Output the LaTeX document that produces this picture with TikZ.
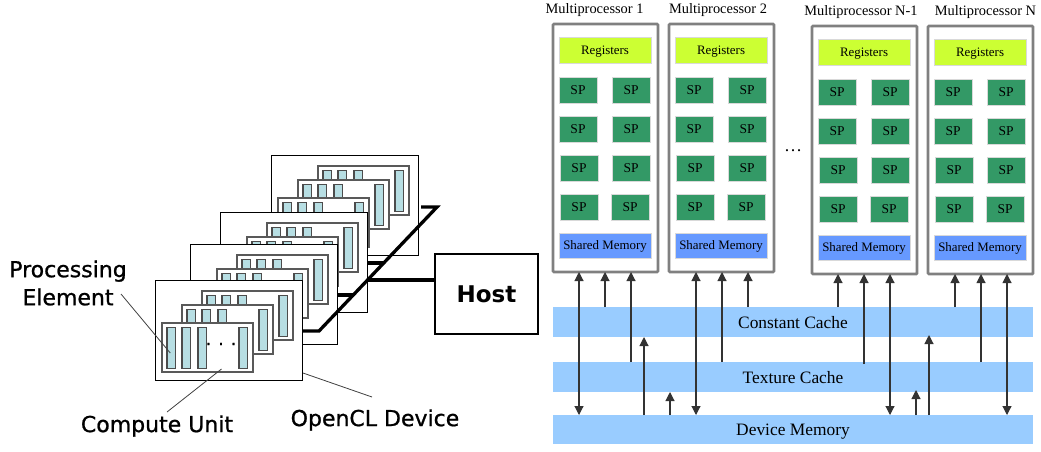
\documentclass[tikz,border=0pt]{standalone}
\usepackage{fontspec}
\setmainfont{Liberation Serif}
\newfontfamily\labfont[FakeBold=0.9]{DejaVu Sans}
\newfontfamily\hostfont{DejaVu Sans}
\usetikzlibrary{positioning,arrows.meta,calc}
\definecolor{regcol}{HTML}{CCFF33}
\definecolor{spcol}{HTML}{339966}
\definecolor{shmcol}{HTML}{6699FF}
\definecolor{cachecol}{HTML}{99CCFF}
\definecolor{pecol}{HTML}{B7DEE3}

\begin{document}
\begin{tikzpicture}[
  x=1pt, y=-1pt,
  >={Stealth[inset=0pt,length=9pt,width=9pt]},
  devbox/.style={draw=black, fill=white, line width=1pt, anchor=north west, inner sep=0pt, outer sep=0pt, minimum width=147pt, minimum height=100pt},
  cubox/.style={draw=black!65, fill=white, line width=1.1pt, anchor=north west, inner sep=0pt, outer sep=0pt, minimum width=91pt, minimum height=49pt},
  pebox/.style={draw=black!70, fill=pecol, line width=1.1pt, anchor=north west, inner sep=0pt, outer sep=0pt, minimum width=8.5pt, minimum height=41pt},
  hostbox/.style={draw=black, fill=white, line width=1.6pt, inner sep=0pt, outer sep=0pt, minimum width=103pt, minimum height=80pt, font=\hostfont\bfseries\fontsize{23}{28}\selectfont},
  lab/.style={font=\labfont\fontsize{22}{28}\selectfont, align=center, inner sep=0pt},
  mpbox/.style={draw=black!50, fill=white, line width=2.8pt, rounded corners=1pt, anchor=north west, inner sep=0pt, outer sep=0pt, minimum width=105pt, minimum height=248pt},
  tbox/.style={anchor=north west, inner sep=0pt, outer sep=0pt, text=black, text depth=0pt, font=\fontsize{12.9}{15}\selectfont},
  regbox/.style={tbox, draw=black!15, fill=regcol, minimum width=92pt, minimum height=26pt},
  spbox/.style={tbox, draw=black!15, fill=spcol, minimum width=38pt, minimum height=26pt, font=\fontsize{13.5}{15}\selectfont},
  shmbox/.style={tbox, draw=black!15, fill=shmcol, minimum width=92pt, minimum height=25pt},
  cachebox/.style={fill=cachecol, anchor=north west, inner sep=0pt, outer sep=0pt, minimum width=480pt, text depth=0pt, font=\fontsize{17.4}{20}\selectfont},
  mplab/.style={inner sep=0pt, font=\fontsize{14.4}{16}\selectfont},
  bus/.style={line width=3.3pt, black},
  leadline/.style={line width=0.8pt, black!75},
  arr/.style={->, line width=1.1pt, black!80},
  arrboth/.style={<->, line width=1.1pt, black!80}
]
\useasboundingbox (0,0) rectangle (1041,451);

% --- OpenCL devices, back to front
\foreach \d/\xpos/\ypos in {4/271/155, 3/220/212, 2/190/244, 1/155/280} {
  \node[devbox] (dev\d) at (\xpos,\ypos) {};
  \foreach \c/\cx/\cy in {3/47/11, 2/27/25, 1/7/43} {
    \node[cubox] (d\d c\c) at ($(dev\d.north west)+(\cx,\cy)$) {};
    \foreach \p/\px in {1/5, 2/20, 3/36, 4/77}
      \node[pebox] (d\d c\c p\p) at ($(d\d c\c.north west)+(\px,4.5)$) {};
  }
}
\node[lab, font=\labfont\fontsize{17}{20}\selectfont] (dots) at (221,344) {. . .};

% --- Host and the bus
\node[hostbox] (host) at (486.5,294) {Host};
\coordinate (busbot) at (319,331);
\coordinate (bustop) at (437,207);
\coordinate (busend) at (421,207);
\coordinate (tap2) at (353,295);
\coordinate (tap3) at (384,263);
\coordinate (taphost) at (367,280);
\draw[bus, line join=miter] (dev1.east |- busbot) -- (busbot) -- (bustop) -- (busend);
\draw[bus] (dev2.east |- tap2) -- (tap2);
\draw[bus] (dev3.east |- tap3) -- (tap3);
\draw[bus] (taphost) -- (host.west |- taphost);

% --- Labels on the left
\node[lab] (pelab) at (68,283) {Processing\\Element};
\node[lab] (culab) at (157,426) {Compute Unit};
\node[lab] (devlab) at (375,420) {OpenCL Device};
\coordinate (pelead) at (121,294);
\coordinate (culead) at (167,412);
\coordinate (devlead) at (372,397);
\draw[leadline] (pelead) -- ($(d1c1p1.center)+(-1,5)$);
\draw[leadline] (culead) -- ($(d1c1.south)+(14,-3)$);
\draw[leadline] ($(dev1.south east)+(1,-7)$) -- (devlead);

% --- Multiprocessors
\foreach \n/\xpos/\ypos/\tx/\ttl in {1/553/24/594.5/Multiprocessor 1, 2/669/24/718/Multiprocessor 2, 3/812/26/861/Multiprocessor N-1, 4/928/26/985.5/Multiprocessor N} {
  \node[mplab] (title\n) at (\tx,\ypos-14) {\ttl};
  \node[mpbox] (mp\n) at (\xpos,\ypos) {};
  \node[regbox] (reg\n) at ($(mp\n.north west)+(6,13)$) {Registers};
  \foreach \r/\xa/\xb/\yy in {1/6/59/53, 2/6/59/92, 3/7/59/131, 4/7/58/170} {
    \node[spbox] (sp\n-\r-a) at ($(mp\n.north west)+(\xa,\yy)$) {SP};
    \node[spbox] (sp\n-\r-b) at ($(mp\n.north west)+(\xb,\yy)$) {SP};
  }
  \node[shmbox] (shm\n) at ($(mp\n.north west)+(6,209)$) {Shared Memory};
}
\node[mplab, font=\fontsize{18}{20}\selectfont] (mpdots) at (793,151) {…};

% --- Caches
\node[cachebox, minimum height=30pt] (const) at (553,307) {Constant Cache};
\node[cachebox, minimum height=30pt] (tex) at (553,362) {Texture Cache};
\node[cachebox, minimum height=29pt] (mem) at (553,415) {Device Memory};

% --- Arrows for multiprocessor 1 and 2
\draw[arrboth] ($(mp1.south west)+(26,0)$) -- ($(mem.north west)+(26,0)$);
\draw[arr] ($(const.north west)+(52,0)$) -- ($(mp1.south west)+(52,0)$);
\draw[arr] ($(tex.north west)+(78,0)$) -- ($(mp1.south west)+(78,0)$);
\draw[arrboth] ($(mp2.south west)+(27,0)$) -- ($(mem.north west)+(143,0)$);
\draw[arr] ($(tex.north west)+(169,0)$) -- ($(mp2.south west)+(53,0)$);
\draw[arr] ($(const.north west)+(195,0)$) -- ($(mp2.south west)+(79,0)$);

% --- Arrows for multiprocessor N-1 and N
\draw[arr] ($(const.north west)+(285,0)$) -- ($(mp3.south west)+(26,0)$);
\draw[arr] ($(tex.north west)+(311,2)$) -- ($(mp3.south west)+(52,0)$);
\draw[arrboth] ($(mp3.south west)+(78,0)$) -- ($(mem.north west)+(337,0)$);
\draw[arr] ($(const.north west)+(402,0)$) -- ($(mp4.south west)+(27,0)$);
\draw[arr] ($(tex.north west)+(428,0)$) -- ($(mp4.south west)+(53,0)$);
\draw[arrboth] ($(mp4.south west)+(79,0)$) -- ($(mem.north west)+(454,0)$);

% --- Arrows from device memory
\draw[arr] ($(mem.north west)+(91,0)$) -- ($(const.south west)+(91,0)$);
\draw[arr] ($(mem.north west)+(117,0)$) -- ($(tex.south west)+(117,0)$);
\draw[arr] ($(mem.north west)+(363,0)$) -- ($(tex.south west)+(363,-2)$);
\draw[arr] ($(mem.north west)+(376,0)$) -- ($(const.south west)+(376,-2)$);

\end{tikzpicture}
\end{document}
